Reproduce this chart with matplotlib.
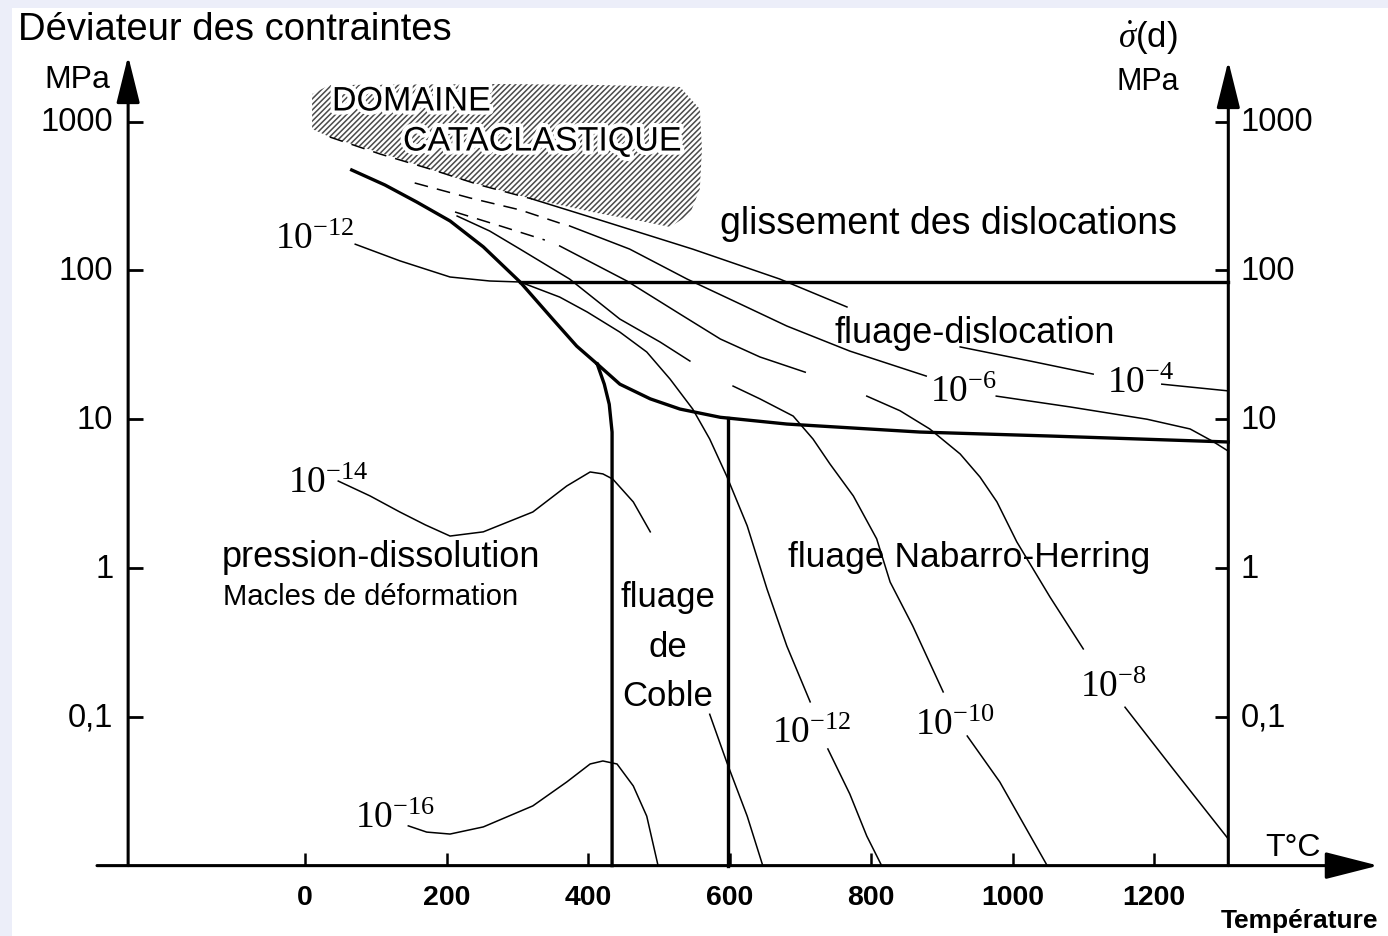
import numpy as np
import matplotlib
matplotlib.use("Agg")
import matplotlib.pyplot as plt
from matplotlib.patches import Polygon, Rectangle
import matplotlib.patheffects as pe

plt.rcParams['mathtext.fontset'] = 'custom'
plt.rcParams['mathtext.rm'] = 'Liberation Serif'
plt.rcParams['mathtext.it'] = 'Liberation Serif:italic'
plt.rcParams['hatch.linewidth'] = 1.1

SANS = ['Liberation Sans', 'DejaVu Sans']
SERIF = ['Liberation Serif', 'DejaVu Serif']

# axis ticks
x_ticks = [0, 200, 400, 600, 800, 1000, 1200]
y_ticks = [1000, 100, 10, 1, 0.1]
y_tick_labels = ["1000", "100", "10", "1", "0,1"]

# strain-rate contours: temperature (°C) / deviatoric stress (MPa)
# 1e-4 s-1
r4a_T = [35, 106, 177, 247, 321]
r4a_s = [788, 606, 480, 375, 302]
r4b_T = [321, 417, 548, 671, 766]
r4b_s = [302, 218, 139, 87.5, 56.8]
r4c_T = [926, 1025, 1114]
r4c_s = [30.6, 24.6, 20.1]
r4d_T = [1211, 1305]
r4d_s = [17.2, 15.5]
# 1e-6
r6a_T = [155, 233, 304, 360]
r6a_s = [387, 307, 255, 208]
r6b_T = [374, 459, 540, 615, 681, 770, 878]
r6b_s = [199, 139, 87.5, 59.5, 42.3, 28.7, 19.5]
r6c_T = [977, 1081, 1190, 1251, 1283, 1305]
r6c_s = [14.3, 12.1, 10.0, 8.6, 7.1, 6.1]
# 1e-8
r8a_T = [212, 276, 339]
r8a_s = [247, 199, 160]
r8b_T = [360, 455, 530, 587, 643, 707]
r8b_s = [146, 84.9, 50.9, 34.6, 26.2, 20.7]
r8c_T = [794, 841, 883, 926, 954, 978, 1006, 1053, 1100]
r8c_s = [14.3, 11.4, 8.6, 5.84, 4.09, 2.78, 1.50, 0.638, 0.286]
r8d_T = [1159, 1227, 1305]
r8d_s = [0.116, 0.0446, 0.0151]
# 1e-10
r10a_T = [215, 261, 304, 374, 445, 502, 544]
r10a_s = [232, 184, 139, 87.5, 47.1, 33.0, 24.6]
r10b_T = [605, 643, 690, 718, 742, 775, 808, 827, 859, 902]
r10b_s = [16.7, 13.7, 10.5, 7.36, 5.0, 3.05, 1.57, 0.805, 0.408, 0.147]
r10c_T = [936, 982, 1049]
r10c_s = [0.0743, 0.0365, 0.01]
# 1e-12
r12a_T = [71, 134, 205, 261, 304, 360, 399, 445, 483, 516, 548, 572, 596, 625, 653, 681, 714]
r12a_s = [150, 116, 90.3, 84.9, 83.6, 66.2, 52.5, 38.5, 28.3, 18.6, 11.7, 7.36, 4.15, 1.92, 0.722, 0.299, 0.126]
r12b_T = [739, 770, 794, 815]
r12b_s = [0.0608, 0.0303, 0.0158, 0.01]
# 1e-14
r14a_T = [47, 92, 134, 170, 205, 252, 322, 370, 403, 421, 435, 464, 488]
r14a_s = [3.84, 3.05, 2.38, 1.95, 1.64, 1.75, 2.38, 3.56, 4.42, 4.29, 3.96, 2.78, 1.75]
r14b_T = [572, 596, 625, 647]
r14b_s = [0.104, 0.0497, 0.0215, 0.01]
# 1e-16
r16_T = [146, 172, 205, 252, 322, 370, 403, 421, 441, 464, 483, 499]
r16_s = [0.0185, 0.0168, 0.0163, 0.0182, 0.0252, 0.0365, 0.0482, 0.0505, 0.0482, 0.0343, 0.0215, 0.01]

# field boundaries
cata_T = [66, 113, 158, 205, 252, 304, 350, 384, 413]
cata_s = [473, 375, 288, 215, 144, 83.6, 47.1, 31.0, 23.5]
disl_T = [413, 445, 488, 530, 587, 681, 869, 1053, 1305]
disl_s = [23.5, 17.2, 13.7, 11.7, 10.3, 9.28, 8.2, 7.71, 7.03]
coble_T = [413, 423, 430, 434, 434]
coble_s = [23.5, 17.2, 12.6, 8.2, 0.01]
nh_T = 598
glide_s = 83.6
glide_T = [304, 1305]

# cataclastic domain outline
dom_T = [10, 35, 276, 417, 530, 558, 561, 558, 544, 516, 474, 413, 321, 218, 134, 35, 10]
dom_s = [1532, 1762, 1790, 1762, 1710, 1216, 654, 352, 239, 196, 215, 243, 302, 411, 561, 788, 892]

x_left, x_right, s_bot = -250, 1305, 0.01

fig = plt.figure(figsize=(13.88, 9.37), dpi=100)
fig.patch.set_facecolor('#eceef9')
bg = fig.add_axes([12 / 1388, 0, 1 - 12 / 1388, 1 - 9 / 937], zorder=-5)
bg.axis('off')
bg.add_patch(Rectangle((0, 0), 1, 1, transform=bg.transAxes, facecolor='white', edgecolor='none'))

ax = fig.add_axes([0, 0, 1, 1], zorder=1)
ax.patch.set_alpha(0)
ax.set_yscale('log')
ax.set_xlim(-431.1, 1530.7)
ax.set_ylim(10 ** -2.473, 10 ** 3.824)
ax.axis('off')

# hatched cataclastic domain
ax.add_patch(Polygon(np.column_stack([dom_T, dom_s]), closed=True, facecolor='none',
                     edgecolor='#4a4a4a', linewidth=0, hatch='//////', zorder=1))

thin = dict(color='k', lw=1.1, zorder=3)
thick = dict(color='k', lw=2.4, zorder=4)

for T, s in [(r4a_T, r4a_s), (r6a_T, r6a_s), (r8a_T, r8a_s)]:
    ax.plot(T, s, dashes=(9, 6), **thin)
for T, s in [(r4b_T, r4b_s), (r4c_T, r4c_s), (r4d_T, r4d_s),
             (r6b_T, r6b_s), (r6c_T, r6c_s),
             (r8b_T, r8b_s), (r8c_T, r8c_s), (r8d_T, r8d_s),
             (r10a_T, r10a_s), (r10b_T, r10b_s), (r10c_T, r10c_s),
             (r12a_T, r12a_s), (r12b_T, r12b_s),
             (r14a_T, r14a_s), (r14b_T, r14b_s), (r16_T, r16_s)]:
    ax.plot(T, s, **thin)

ax.plot(cata_T, cata_s, **thick)
ax.plot(disl_T, disl_s, **thick)
ax.plot(coble_T, coble_s, **thick)
nh_top = 10 ** np.interp(nh_T, disl_T, np.log10(disl_s))
ax.plot([nh_T, nh_T], [s_bot, nh_top], **thick)
ax.plot(glide_T, [glide_s, glide_s], **thick)

# axes with arrows
arrow_v = dict(arrowstyle='-|>,head_length=1.45,head_width=0.36', color='k', lw=2.2,
               mutation_scale=20, shrinkA=0, shrinkB=0)
ax.annotate('', xy=(x_left, 2760), xytext=(x_left, s_bot), arrowprops=arrow_v, zorder=5)
ax.annotate('', xy=(x_right, 2555), xytext=(x_right, s_bot), arrowprops=arrow_v, zorder=5)
ax.annotate('', xy=(1517, s_bot), xytext=(-294, s_bot),
            arrowprops=dict(arrowstyle='-|>,head_length=1.65,head_width=0.42', color='k',
                            lw=2.2, mutation_scale=20, shrinkA=0, shrinkB=0), zorder=5)

ax.vlines(x_ticks, s_bot, 0.0122, color='k', lw=1.8, zorder=5)
ax.hlines(y_ticks, x_left, x_left + 21, color='k', lw=2.0, zorder=5)
ax.hlines(y_ticks, x_right - 19, x_right, color='k', lw=2.0, zorder=5)

for v, lab in zip(y_ticks, y_tick_labels):
    ax.text(-271, v, lab, ha='right', va='center', fontsize=23.5, family=SANS)
    ax.text(1322, v, lab, ha='left', va='center', fontsize=23.5, family=SANS)
for v in x_ticks:
    ax.text(v, 0.0062, str(v), ha='center', va='center', fontsize=20.5,
            fontweight='bold', family=SANS)

# axis titles
ax.text(-406, 4190, "Déviateur des contraintes", ha='left', va='center', fontsize=27.5, family=SANS)
ax.text(-322, 1932, "MPa", ha='center', va='center', fontsize=23, family=SANS)
ax.text(1191, 3705, r"$\dot{\sigma}$(d)", ha='center', va='center', fontsize=25, family=SANS)
ax.text(1191, 1875, "MPa", ha='center', va='center', fontsize=22, family=SANS)
ax.text(1397, 0.0134, "T°C", ha='center', va='center', fontsize=23, family=SANS)
ax.text(1406, 0.0043, "Température", ha='center', va='center', fontsize=19,
        fontweight='bold', family=SANS)

# field names
halo = [pe.withStroke(linewidth=6, foreground='white')]
ax.text(150, 1355, "DOMAINE", ha='center', va='center', fontsize=24.5, family=SANS,
        path_effects=halo, zorder=6)
ax.text(335, 729, "CATACLASTIQUE", ha='center', va='center', fontsize=24.5, family=SANS,
        path_effects=halo, zorder=6)
ax.text(909, 208, "glissement des dislocations", ha='center', va='center', fontsize=27, family=SANS)
ax.text(946, 38.5, "fluage-dislocation", ha='center', va='center', fontsize=26, family=SANS)
ax.text(939, 1.2, "fluage Nabarro-Herring", ha='center', va='center', fontsize=25.5, family=SANS)
ax.text(107, 1.2, "pression-dissolution", ha='center', va='center', fontsize=26, family=SANS)
ax.text(92, 0.648, "Macles de déformation", ha='center', va='center', fontsize=21, family=SANS)
ax.text(513, 0.648, "fluage", ha='center', va='center', fontsize=25, family=SANS)
ax.text(513, 0.299, "de", ha='center', va='center', fontsize=25, family=SANS)
ax.text(513, 0.140, "Coble", ha='center', va='center', fontsize=25, family=SANS)

# strain-rate labels
for T, s, e in [(-42, 141.5, '-12'), (-24, 3.24, '-14'), (71, 0.0182, '-16'),
                (660, 0.0677, '-12'), (862, 0.0766, '-10'), (1095, 0.138, '-8'),
                (883, 13.25, '-6'), (1134, 15.2, '-4')]:
    ax.text(T, s, r'$\mathregular{10^{%s}}$' % e, ha='left', va='baseline',
            fontsize=27, family=SERIF, zorder=6)

fig.savefig("out.png", dpi=100, facecolor=fig.get_facecolor())
